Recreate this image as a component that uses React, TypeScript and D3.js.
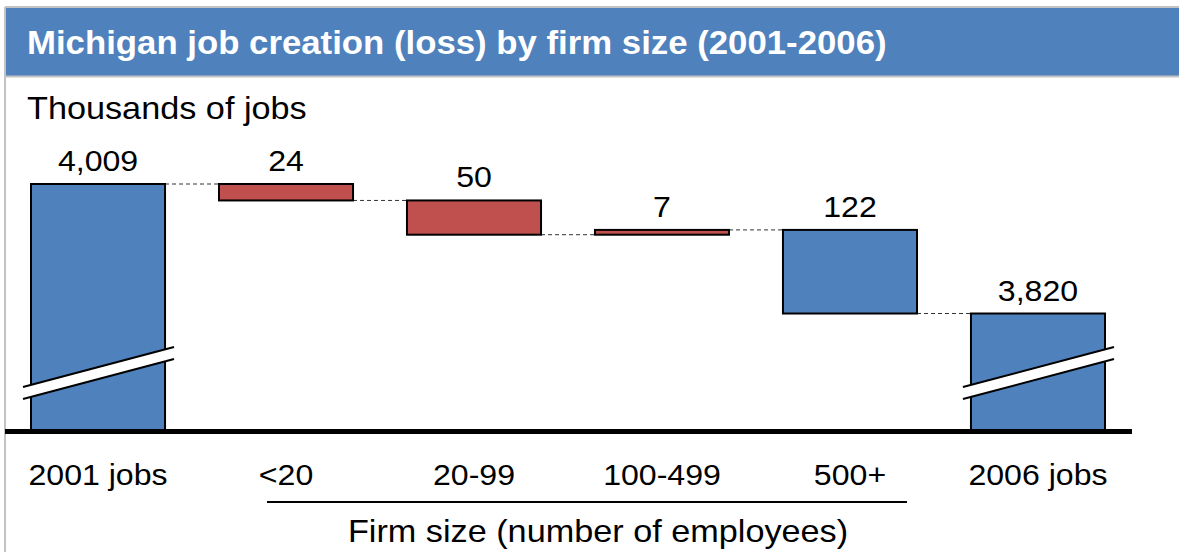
import React from 'react';
import * as d3 from 'd3';

// Waterfall data (thousands of jobs)
const categories = ['2001 jobs', '<20', '20-99', '100-499', '500+', '2006 jobs'];
const startTotal = 4009;
const changes = [-24, -50, 7, -122];
const endTotal = 3820;
const valueLabels = ['4,009', '24', '50', '7', '122', '3,820'];
const barKinds = ['total', 'small', 'small', 'small', 'large', 'total'];

const W = 1179;
const H = 552;
const FONT = "'Liberation Sans', Arial, sans-serif";
const SX = 1.07; // source picture is slightly stretched horizontally

const colors: Record<string, string> = {
  total: '#4F81BD',
  large: '#4F81BD',
  small: '#C0504D',
};

type Bar = { cat: string; from: number; to: number; kind: string; label: string; broken: boolean };

function buildBars(): Bar[] {
  const bars: Bar[] = [];
  bars.push({ cat: categories[0], from: 0, to: startTotal, kind: barKinds[0], label: valueLabels[0], broken: true });
  let run = startTotal;
  changes.forEach((c, i) => {
    bars.push({ cat: categories[i + 1], from: run, to: run + c, kind: barKinds[i + 1], label: valueLabels[i + 1], broken: false });
    run += c;
  });
  bars.push({ cat: categories[5], from: 0, to: endTotal, kind: barKinds[5], label: valueLabels[5], broken: true });
  return bars;
}

const T: React.FC<{ x: number; y: number; size: number; anchor?: string; weight?: string; fill?: string; children: React.ReactNode }> = ({ x, y, size, anchor = 'middle', weight = 'normal', fill = '#000', children }) => (
  <text
    transform={`translate(${x},${y}) scale(${SX},1)`}
    textAnchor={anchor}
    fontFamily={FONT}
    fontSize={size}
    fontWeight={weight}
    fill={fill}
  >
    {children}
  </text>
);

export default function App() {
  const bars = buildBars();
  const baseY = 430;

  const x = d3.scaleBand<string>()
    .domain(categories)
    .range([4, 1132])
    .paddingInner(0.287)
    .paddingOuter(0.1436);

  // broken axis: the visible part starts well above zero
  const y = d3.scaleLinear().domain([3650, 4009]).range([baseY, 184]);
  const yc = (v: number) => (v <= 3650 ? baseY : y(v));

  const bw = x.bandwidth();

  return (
    <svg width={W} height={H} style={{ position: 'absolute', left: 0, top: 0, background: '#fff' }}>
      {/* frame + title bar */}
      <rect x={6} y={8} width={W - 6} height={68} fill="#4F81BD" />
      <line x1={5} x2={W} y1={7} y2={7} stroke="#c3c3c3" strokeWidth={2} />
      <line x1={5} x2={W} y1={76.5} y2={76.5} stroke="#c3c3c3" strokeWidth={2} />
      <line x1={5} x2={5} y1={7} y2={H} stroke="#c3c3c3" strokeWidth={2} />
      <T x={27} y={54} size={32.5} anchor="start" weight="bold" fill="#fff">
        Michigan job creation (loss) by firm size (2001-2006)
      </T>
      <T x={27} y={119} size={32} anchor="start">Thousands of jobs</T>

      {/* connectors */}
      {bars.slice(0, -1).map((b, i) => {
        const next = bars[i + 1];
        const lvl = yc(b.to);
        return (
          <line
            key={`c${i}`}
            x1={(x(b.cat) ?? 0) + bw}
            x2={x(next.cat) ?? 0}
            y1={lvl}
            y2={lvl}
            stroke="#333"
            strokeWidth={1}
            strokeDasharray="4,3"
          />
        );
      })}

      {/* bars */}
      {bars.map((b) => {
        const x0 = x(b.cat) ?? 0;
        const top = Math.min(yc(b.from), yc(b.to));
        const bot = Math.max(yc(b.from), yc(b.to));
        return (
          <g key={b.cat}>
            <rect x={x0} y={top} width={bw} height={bot - top} fill={colors[b.kind]} stroke="#000" strokeWidth={2} />
            <T x={x0 + bw / 2} y={top - 13} size={30}>{b.label}</T>
            {b.broken && (
              <g>
                <polygon
                  points={`${x0 - 8},${baseY - 43} ${x0 + bw + 9},${baseY - 83} ${x0 + bw + 9},${baseY - 71} ${x0 - 8},${baseY - 31}`}
                  fill="#fff"
                />
                <line x1={x0 - 8} y1={baseY - 43} x2={x0 + bw + 9} y2={baseY - 83} stroke="#000" strokeWidth={2} />
                <line x1={x0 - 8} y1={baseY - 31} x2={x0 + bw + 9} y2={baseY - 71} stroke="#000" strokeWidth={2} />
              </g>
            )}
          </g>
        );
      })}

      {/* baseline */}
      <line x1={5} x2={1132} y1={baseY + 1.5} y2={baseY + 1.5} stroke="#000" strokeWidth={5} />

      {/* category labels */}
      {categories.map((c) => (
        <T key={`l${c}`} x={(x(c) ?? 0) + bw / 2} y={485} size={30}>{c}</T>
      ))}

      {/* firm size bracket */}
      <line
        x1={(x(categories[1]) ?? 0) + bw / 2 - 19}
        x2={(x(categories[4]) ?? 0) + bw / 2 + 57}
        y1={502}
        y2={502}
        stroke="#000"
        strokeWidth={2}
      />
      <T x={598} y={542} size={32}>Firm size (number of employees)</T>
    </svg>
  );
}
